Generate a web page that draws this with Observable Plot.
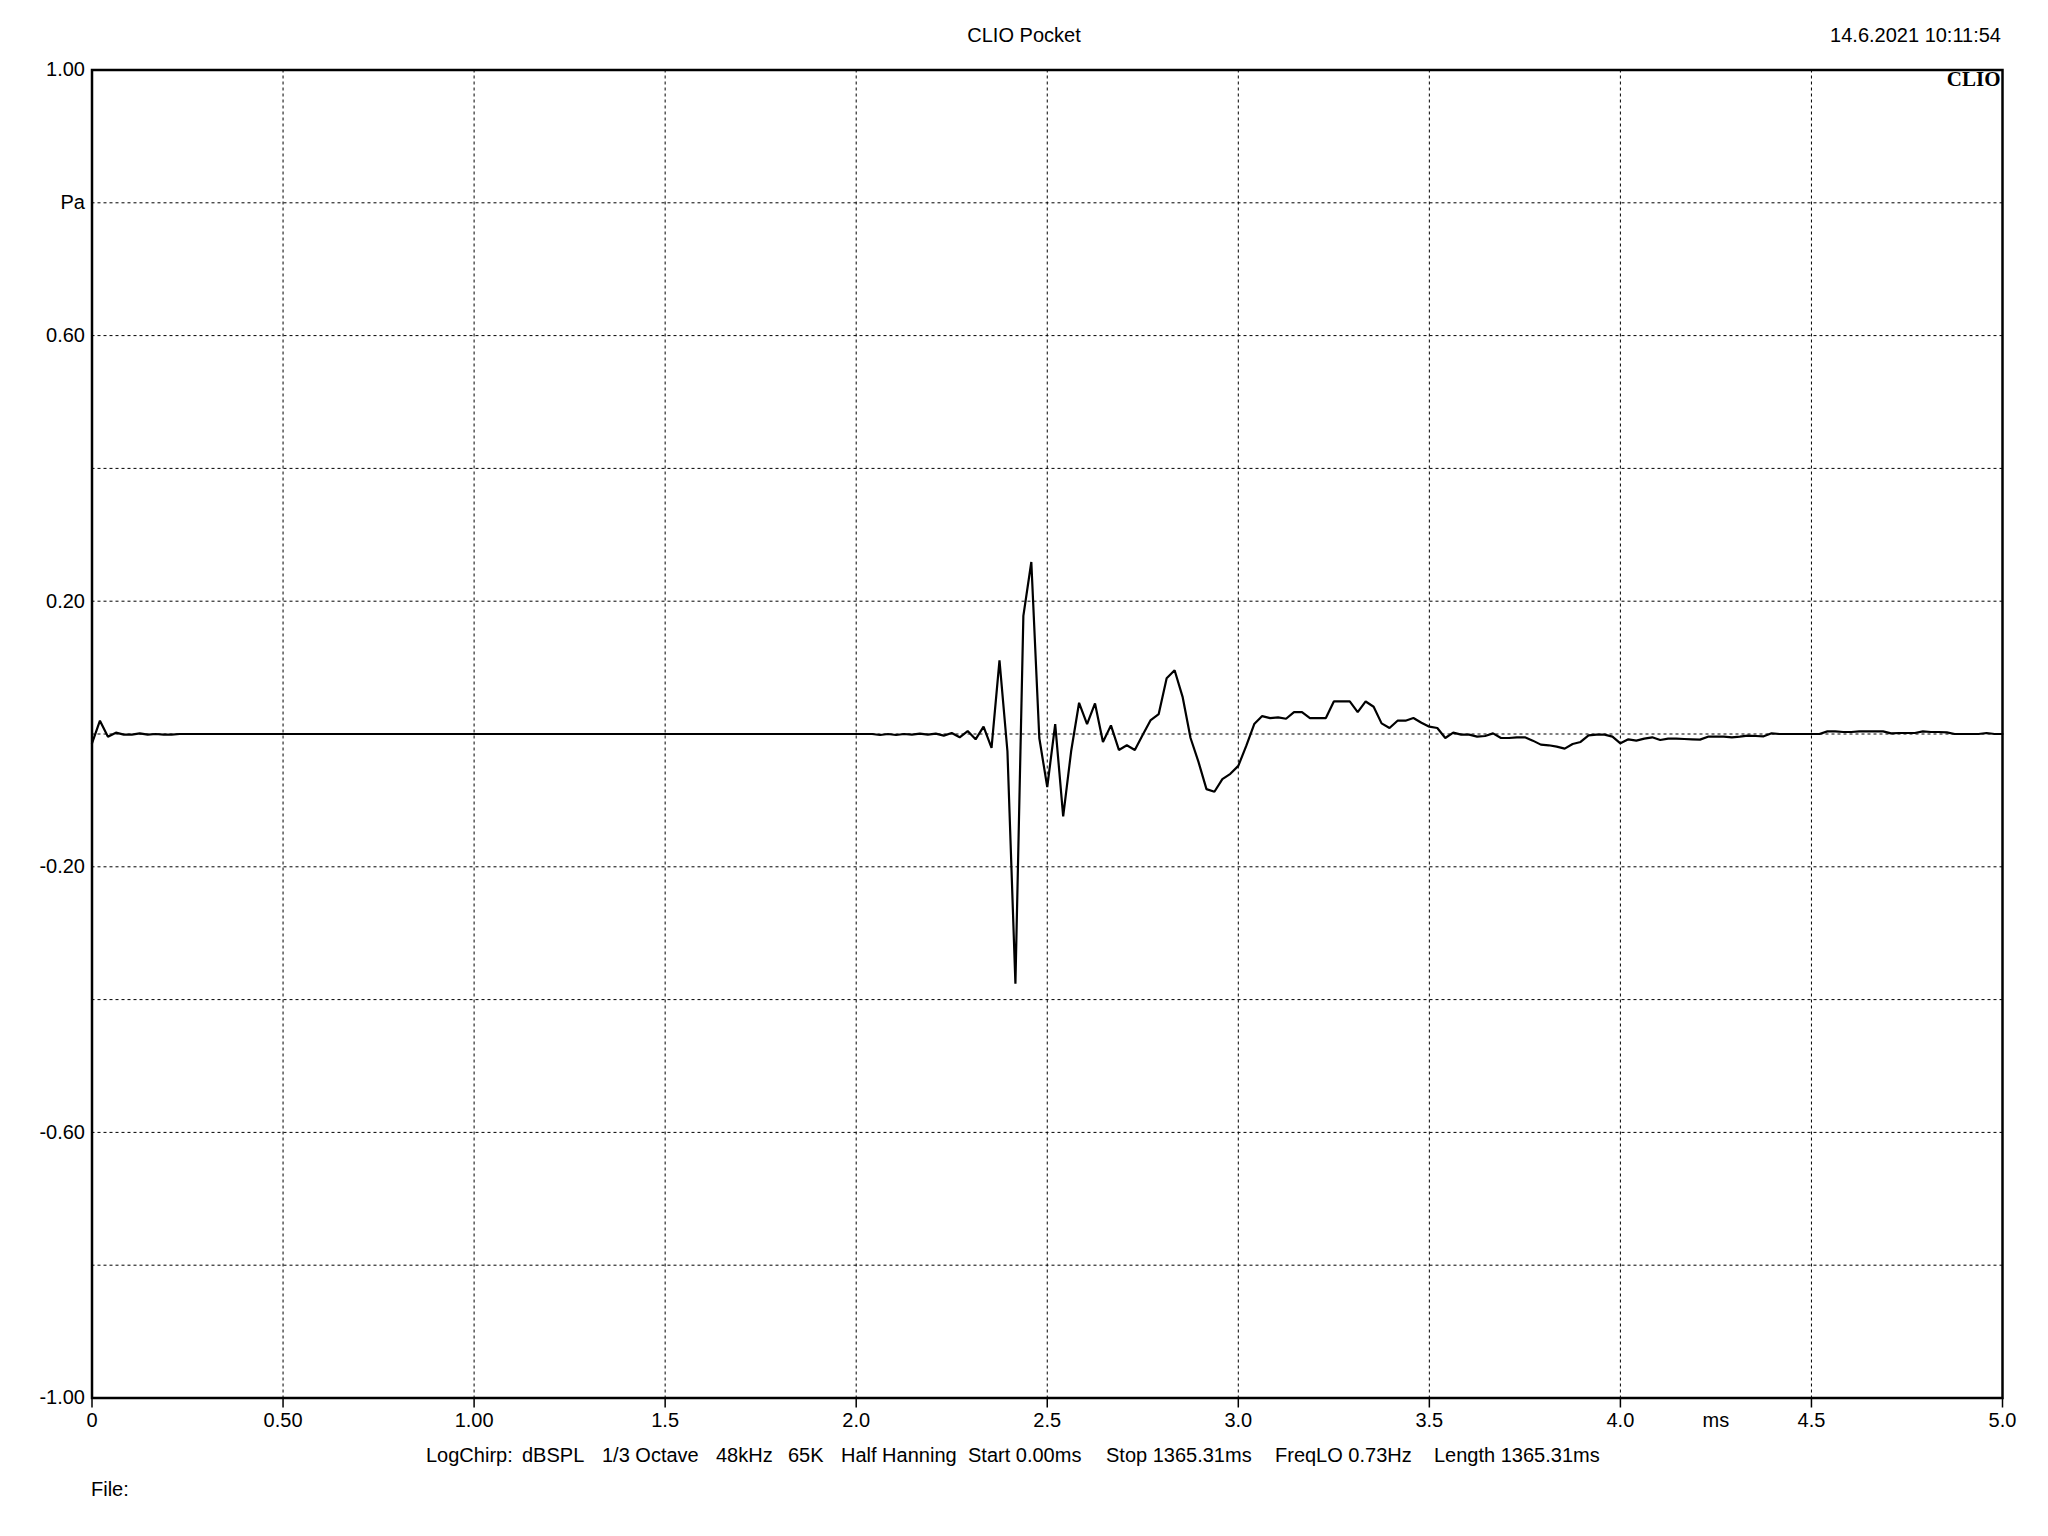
<!DOCTYPE html>
<html><head><meta charset="utf-8">
<script src="https://cdn.jsdelivr.net/npm/d3@7"></script>
<script src="https://cdn.jsdelivr.net/npm/@observablehq/plot@0.6"></script>
<style>
html,body{margin:0;padding:0;background:#fff;}
#wrap{position:relative;width:2048px;height:1536px;font-family:"Liberation Sans",Arial,sans-serif;color:#000;}
#wrap svg{position:absolute;left:0;top:0;}
.lbl{position:absolute;font-size:20px;line-height:20px;white-space:pre;color:#000;}
</style></head><body><div id="wrap"></div>
<script>
// ---- data (time in ms, pressure in Pa) ----
const timeMs = [
 0,0.0208,0.0417,0.0625,0.0833,0.1042,0.125,0.1458,0.1667,0.1875,0.2083,0.2292,
 2.0417,2.0625,2.0833,2.1042,2.125,2.1458,2.1667,2.1875,2.2083,2.2292,2.25,2.2708,2.2917,2.3125,2.3333,2.3542,
 2.375,2.3958,2.4167,2.4375,2.4583,2.4792,2.5,2.5208,2.5417,2.5625,2.5833,2.6042,2.625,2.6458,2.6667,2.6875,
 2.7083,2.7292,2.75,2.7708,2.7917,2.8125,2.8333,2.8542,2.875,2.8958,2.9167,2.9375,2.9583,2.9792,
 3.0,3.0208,3.0417,3.0625,3.0833,3.1042,3.125,3.1458,3.1667,3.1875,3.2083,3.2292,3.25,3.2708,3.2917,3.3125,
 3.3333,3.3542,3.375,3.3958,3.4167,3.4375,3.4583,3.4792,3.5,3.5208,3.5417,3.5625,3.5833,3.6042,3.625,3.6458,
 3.6667,3.6875,3.7083,3.7292,3.75,3.7708,3.7917,3.8125,3.8333,3.8542,3.875,3.8958,3.9167,3.9375,3.9583,3.9792,
 4.0,4.0208,4.0417,4.0625,4.0833,4.1042,4.125,4.1458,4.1667,4.1875,4.2083,4.2292,4.25,4.2708,4.2917,4.3125,
 4.3333,4.3542,4.375,4.3958,4.4167,4.5208,4.5417,4.5625,4.5833,4.6042,4.625,4.6458,4.6667,4.6875,4.7083,
 4.7292,4.75,4.7708,4.7917,4.8125,4.8333,4.8542,4.875,4.9375,4.9583,4.9792,5.0
];
const pressurePa = [
 -0.014,0.020,-0.004,0.002,-0.001,-0.001,0.001,-0.001,0.000,-0.001,-0.001,0,
 0,-0.0015,0,-0.0015,0,-0.001,0.0005,-0.001,0.0005,-0.0025,0.0015,-0.005,0.0045,-0.008,0.011,-0.021,
 0.111,-0.026,-0.376,0.178,0.259,-0.006,-0.080,0.015,-0.124,-0.026,0.047,0.015,0.046,-0.012,0.013,-0.024,
 -0.017,-0.024,-0.001,0.021,0.030,0.084,0.096,0.056,-0.006,-0.042,-0.083,-0.087,-0.068,-0.060,
 -0.048,-0.018,0.015,0.027,0.024,0.025,0.023,0.033,0.033,0.024,0.024,0.024,0.049,0.049,0.049,0.033,
 0.049,0.041,0.016,0.009,0.020,0.020,0.024,0.017,0.011,0.009,-0.006,0.002,-0.001,-0.001,-0.004,-0.003,
 0.001,-0.006,-0.006,-0.005,-0.005,-0.010,-0.016,-0.017,-0.019,-0.022,-0.015,-0.012,-0.002,-0.001,-0.001,-0.004,
 -0.014,-0.008,-0.010,-0.007,-0.005,-0.009,-0.007,-0.007,-0.0075,-0.008,-0.0085,-0.004,-0.004,-0.004,-0.005,-0.004,
 -0.0025,-0.003,-0.0035,0.001,0,0,0.004,0.004,0.003,0.003,0.004,0.004,0.004,0.004,0.001,
 0.0015,0.0015,0.0015,0.004,0.003,0.003,0.0025,0,0,0.0015,0,0
];
const xTicks = [0,0.5,1,1.5,2,2.5,3,3.5,4,4.5,5];
const xTickLabels = ["0","0.50","1.00","1.5","2.0","2.5","3.0","3.5","4.0","4.5","5.0"];
const xUnitPos = [4.25];
const xUnitLabel = "ms";
const yTicks = [1,0.8,0.6,0.2,-0.2,-0.6,-1];
const yTickLabels = ["1.00","Pa","0.60","0.20","-0.20","-0.60","-1.00"];
const xGrid = [0.5,1,1.5,2,2.5,3,3.5,4,4.5];
const yGrid = [-0.8,-0.6,-0.4,-0.2,0,0.2,0.4,0.6,0.8];
const titleText = "CLIO Pocket";
const dateText = "14.6.2021 10:11:54";
const brandText = "CLIO";
const footerItems = ["LogChirp:","dBSPL","1/3 Octave","48kHz","65K","Half Hanning","Start 0.00ms","Stop 1365.31ms","FreqLO 0.73Hz","Length 1365.31ms"];
const fileText = "File:";

// ---- chart ----
const data = timeMs.map((t,i)=>({t, p: pressurePa[i]}));
const xLab = new Map(xTicks.map((d,i)=>[d,xTickLabels[i]]));
const yLab = new Map(yTicks.map((d,i)=>[d,yTickLabels[i]]));
const grid = {stroke:"#000", strokeOpacity:1, strokeWidth:1, strokeDasharray:"3,3"};

const chart = Plot.plot({
  width:2048, height:1536,
  marginLeft:91.5, marginRight:46, marginTop:69.5, marginBottom:138.5,
  x:{domain:[0,5]},
  y:{domain:[-1,1]},
  style:{fontFamily:"'Liberation Sans', Arial, sans-serif", fontSize:"20px", color:"#000", background:"#fff"},
  marks:[
    Plot.gridX(xGrid, grid),
    Plot.gridY(yGrid, grid),
    Plot.line(data,{x:"t", y:"p", stroke:"#000", strokeWidth:2.2, strokeLinejoin:"miter"}),
    Plot.frame({stroke:"#000", strokeWidth:2.5}),
    Plot.axisX(xTicks,{tickSize:10, tickPadding:5, strokeWidth:1.5, tickFormat:d=>xLab.get(d), label:null}),
    Plot.axisX(xUnitPos,{tickSize:0, tickPadding:15, tickFormat:()=>xUnitLabel, label:null}),
    Plot.axisY(yTicks,{tickSize:0, tickPadding:7, tickFormat:d=>yLab.get(d), label:null}),
    Plot.text([brandText],{frameAnchor:"top-right", text:d=>d, dx:-2, dy:1, fontFamily:"'Liberation Serif', 'Times New Roman', serif", fontWeight:"bold", fontSize:21})
  ]
});
const wrap = document.getElementById("wrap");
wrap.appendChild(chart);

function addLabel(text, left, top, align){
  const el = document.createElement("div");
  el.className = "lbl";
  el.textContent = text;
  el.style.top = top + "px";
  if (align === "center") { el.style.left = left + "px"; el.style.transform = "translateX(-50%)"; }
  else if (align === "right") { el.style.right = (2048 - left) + "px"; }
  else el.style.left = left + "px";
  wrap.appendChild(el);
}
addLabel(titleText, 1024, 24.5, "center");
addLabel(dateText, 2001, 24.5, "right");
const footerX = [426,522,602,716,788,841,968,1106,1275,1434];
footerItems.forEach((s,i)=>addLabel(s, footerX[i], 1445, "left"));
addLabel(fileText, 91, 1479, "left");
</script></body></html>
